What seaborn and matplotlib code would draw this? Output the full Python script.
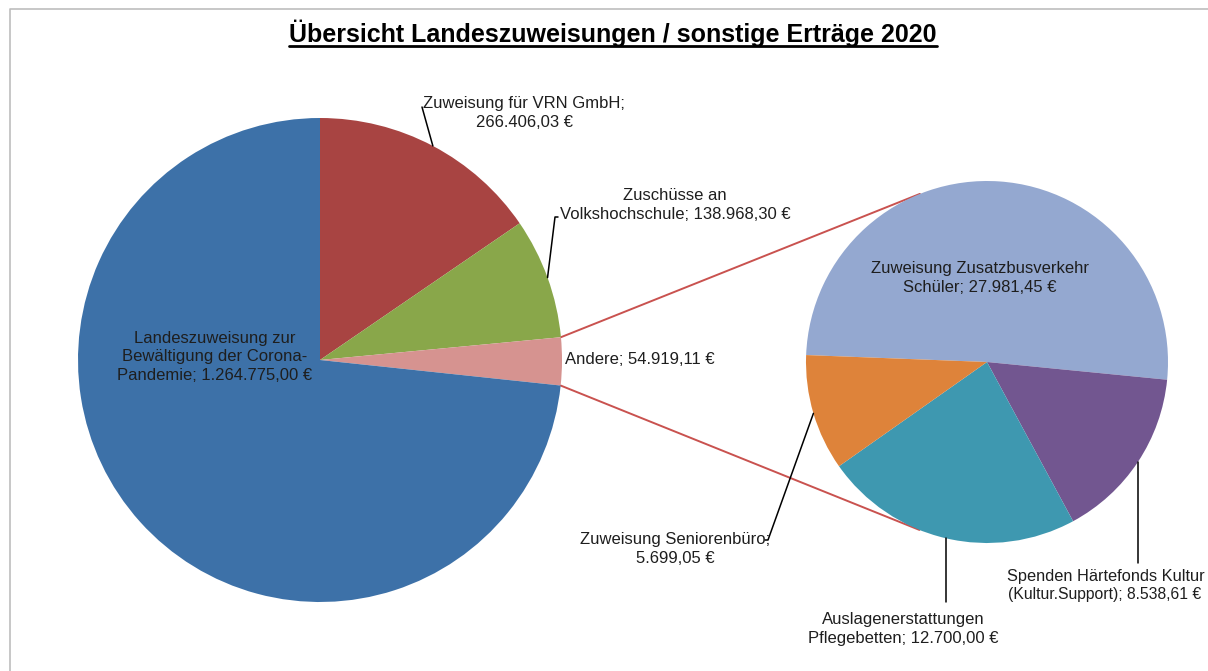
import numpy as np
import matplotlib
matplotlib.use("Agg")
import matplotlib.pyplot as plt
import seaborn as sns

# data: main pie (clockwise from 12 o'clock) and the "Andere" breakdown
main_labels = ["Zuweisung für VRN GmbH;\n266.406,03 €",
               "Zuschüsse an\nVolkshochschule; 138.968,30 €",
               "Andere; 54.919,11 €",
               "Landeszuweisung zur\nBewältigung der Corona-\nPandemie; 1.264.775,00 €"]
main_values = [266406.03, 138968.30, 54919.11, 1264775.00]

sub_labels = ["Zuweisung Zusatzbusverkehr\nSchüler; 27.981,45 €",
              "Spenden Härtefonds Kultur",
              "Auslagenerstattungen\nPflegebetten; 12.700,00 €",
              "Zuweisung Seniorenbüro;\n5.699,05 €"]
sub_values = [27981.45, 8538.61, 12700.00, 5699.05]

title = "Übersicht Landeszuweisungen / sonstige Erträge 2020"

sns.set_theme(style="white")
plt.rcParams['font.family'] = ['Liberation Sans', 'DejaVu Sans']

main_colors = sns.color_palette(["#3D71A8", "#A84442", "#89A74A", "#D69390"])
sub_colors = sns.color_palette(["#94A8D0", "#725690", "#3E98B0", "#DE833A"])

W, H = 1208, 671
fig = plt.figure(figsize=(W / 100, H / 100), dpi=100)
ax = fig.add_axes([0, 0, 1, 1])

def py(y):
    # pixel row -> data y
    return H - y

c1, r1 = np.array([320.0, py(360)]), 242.0
c2, r2 = np.array([987.0, py(362)]), 181.0

wm, _ = ax.pie(main_values, colors=[main_colors[1], main_colors[2], main_colors[3], main_colors[0]],
               startangle=90, counterclock=False, center=c1, radius=r1,
               wedgeprops=dict(linewidth=0))
ws, _ = ax.pie(sub_values, colors=list(sub_colors), startangle=177.8, counterclock=False,
               center=c2, radius=r2, wedgeprops=dict(linewidth=0))

ax.set_xlim(0, W)
ax.set_ylim(0, H)
ax.set_aspect('equal')
ax.axis('off')

# connector lines from the "Andere" wedge edges, tangent to the second pie
andere = wm[2]
for ang in (andere.theta2, andere.theta1):
    p = c1 + r1 * np.array([np.cos(np.radians(ang)), np.sin(np.radians(ang))])
    v = p - c2
    d = np.linalg.norm(v)
    alpha = np.arccos(r2 / d)
    base = np.arctan2(v[1], v[0])
    sign = -1 if ang > 0 else 1
    t = base + sign * alpha
    q = c2 + r2 * np.array([np.cos(t), np.sin(t)])
    ax.plot([p[0], q[0]], [p[1], q[1]], color="#C9524F", lw=1.4, zorder=0)

def mid(w):
    return np.radians((w.theta1 + w.theta2) / 2)

def edge(c, r, w, f=1.0):
    a = mid(w)
    return c + f * r * np.array([np.cos(a), np.sin(a)])

tc = "#1E1E1E"
fs = 12
ls = 1.3

# main pie labels
ax.text(524, py(113), main_labels[0], ha='center', va='center', fontsize=fs, color=tc, linespacing=ls)
e = edge(c1, r1, wm[0])
ax.plot([422, e[0]], [py(107), e[1]], color="black", lw=1.1)

ax.text(675, py(205), main_labels[1], ha='center', va='center', fontsize=fs, color=tc, linespacing=ls)
e = edge(c1, r1, wm[1])
ax.plot([558, 555, e[0]], [py(217), py(217), e[1]], color="black", lw=1.1)

ax.text(565, py(360), main_labels[2], ha='left', va='center', fontsize=fs, color=tc)
ax.text(215, py(357), main_labels[3], ha='center', va='center', fontsize=fs, color=tc, linespacing=ls)

# second pie labels
ax.text(980, py(278), sub_labels[0], ha='center', va='center', fontsize=fs, color=tc, linespacing=ls)

ax.text(1106, py(576), sub_labels[1], ha='center', va='center', fontsize=11.8, color=tc)
ax.text(1105, py(595), "(Kultur.Support); 8.538,61 €", ha='center', va='center', fontsize=11.3, color=tc)
e = edge(c2, r2, ws[1])
ax.plot([e[0], e[0]], [e[1], py(563)], color="black", lw=1.1)

ax.text(903, py(629), sub_labels[2], ha='center', va='center', fontsize=fs, color=tc, linespacing=ls)
e = edge(c2, r2, ws[2])
ax.plot([e[0], e[0]], [e[1], py(602)], color="black", lw=1.1)

ax.text(675, py(549), sub_labels[3], ha='center', va='center', fontsize=fs, color=tc, linespacing=ls)
e = edge(c2, r2, ws[3])
ax.plot([765, 768, e[0]], [py(540), py(540), e[1]], color="black", lw=1.1)

# chart frame (only top and left are visible in the crop)
ax.plot([10, 10, W], [0, py(9), py(9)], color="#BDBDBD", lw=1.2, clip_on=False)

# title with underline
tt = ax.text(613, py(42), title, ha='center', va='baseline', fontsize=18,
             fontweight='bold', color="black")
fig.canvas.draw()
bb = tt.get_window_extent().transformed(ax.transData.inverted())
ax.plot([bb.x0, bb.x1], [py(46), py(46)], color="black", lw=2)

fig.savefig("out.png", dpi=100, facecolor="white")
